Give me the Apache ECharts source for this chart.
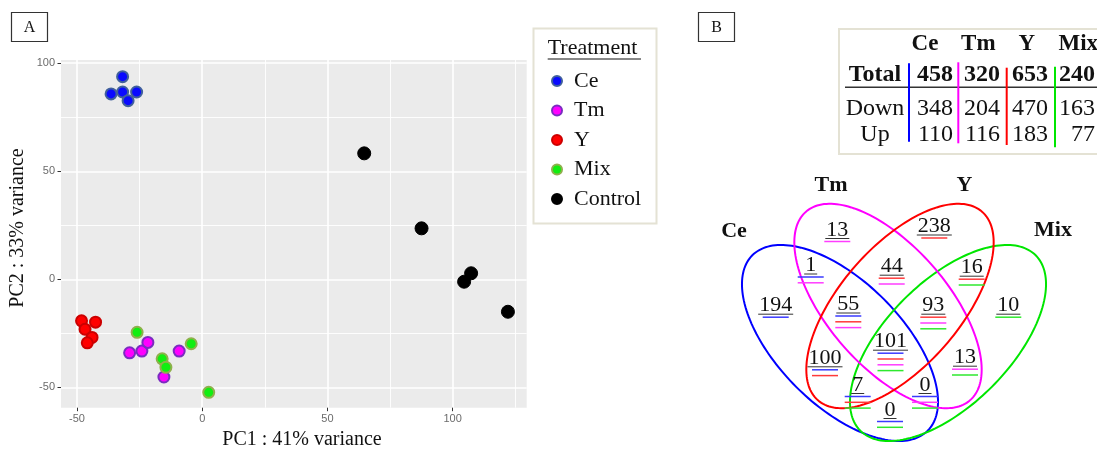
<!DOCTYPE html>
<html>
<head>
<meta charset="utf-8">
<script src="https://cdn.jsdelivr.net/npm/echarts@6/dist/echarts.min.js"></script>
<style>html,body{margin:0;padding:0;background:#fff}#c{width:1097px;height:449px}</style>
</head>
<body>
<div id="c"></div>
<script>
// ================= DATA =================
// Panel A : PCA scores
const groups = ['Ce', 'Tm', 'Y', 'Mix', 'Control'];
const ceX = [-31.8, -36.4, -31.8, -26.2, -29.6];
const ceY = [93.8, 85.8, 86.7, 86.7, 82.7];
const tmX = [-29.0, -24.1, -21.7, -9.2, -15.3];
const tmY = [-34.0, -33.2, -29.2, -33.2, -45.2];
const yX = [-48.2, -42.6, -46.8, -44.0, -45.9];
const yY = [-19.2, -19.8, -23.1, -26.9, -29.4];
const mixX = [-26.0, -4.4, -16.0, -14.5, 2.6];
const mixY = [-24.5, -29.8, -36.8, -40.7, -52.3];
const ctrlX = [64.7, 87.6, 107.4, 104.6, 122.1];
const ctrlY = [58.3, 23.6, 2.8, -1.1, -15.0];
const xTicks = [-50, 0, 50, 100];
const yTicks = [-50, 0, 50, 100];
const xMinorTicks = [-25, 25, 75, 125];
const yMinorTicks = [-25, 25, 75];
const xTitle = 'PC1 : 41% variance';
const yTitle = 'PC2 : 33% variance';
const legendTitle = 'Treatment';

// Panel B : DEG table and Venn diagram
const tableCols = ['Ce', 'Tm', 'Y', 'Mix'];
const tableRowNames = ['Total', 'Down', 'Up'];
const totalDEG = [458, 320, 653, 240];
const downDEG = [348, 204, 470, 163];
const upDEG = [110, 116, 183, 77];
const vennSets = ['Ce', 'Tm', 'Y', 'Mix'];
const vennRegions = ['Ce', 'Tm', 'Y', 'Mix', 'Ce&Tm', 'Tm&Y', 'Y&Mix', 'Ce&Tm&Y', 'Tm&Y&Mix',
  'Ce&Tm&Y&Mix', 'Ce&Y', 'Tm&Mix', 'Ce&Y&Mix', 'Ce&Tm&Mix', 'Ce&Mix'];
const vennCounts = [194, 13, 238, 10, 1, 44, 16, 55, 93, 101, 100, 13, 7, 0, 0];
const panelLabels = ['A', 'B'];

// ================= LAYOUT / STYLE =================
const SERIF = '"Liberation Serif", "Times New Roman", serif';
const SANS = '"Liberation Sans", Arial, sans-serif';
const pcaX = { Ce: ceX, Tm: tmX, Y: yX, Mix: mixX, Control: ctrlX };
const pcaY = { Ce: ceY, Tm: tmY, Y: yY, Mix: mixY, Control: ctrlY };
const pointStyle = {
  Ce: { fill: '#0a0aff', border: '#40609c' },
  Tm: { fill: '#ff00ff', border: '#7a2cc0' },
  Y: { fill: '#ff0000', border: '#cc0000' },
  Mix: { fill: '#11ee11', border: '#8fb04c' },
  Control: { fill: '#000000', border: '#000000' }
};
const setColor = { Ce: '#0000ff', Tm: '#ff00ff', Y: '#ff0000', Mix: '#00e600' };
const lineColor = { Ce: '#3a3aff', Tm: '#ff3cff', Y: '#ff3a3a', Mix: '#2ee82e' };
const underlineOrder = ['Ce', 'Y', 'Tm', 'Mix'];
const ellipseGeom = [
  { set: 'Ce', cx: 840, cy: 343, a: 124, b: 62, rot: 45 },
  { set: 'Mix', cx: 948, cy: 343, a: 124, b: 62, rot: 135 },
  { set: 'Tm', cx: 888, cy: 306, a: 125, b: 60, rot: 49 },
  { set: 'Y', cx: 900, cy: 306, a: 125, b: 60, rot: 131 }
];
const vennLabelPos = [
  [775.7, 305.7], [837.3, 230], [934.3, 226.5], [1008.3, 305.7],
  [810.7, 265.5], [891.7, 266.7], [971.7, 267.7],
  [848.3, 304.5], [933.3, 305.7], [890.5, 341.7],
  [825, 358.3], [965, 357.7], [857.7, 385], [925, 385], [890, 410]
];
const setLabelPos = { Ce: [734, 231], Tm: [831, 185], Y: [964.5, 185], Mix: [1053, 230] };

// ================= CHART =================
const chart = echarts.init(document.getElementById('c'), null, { renderer: 'canvas', width: 1097, height: 449 });

const scatterSeries = groups.map(g => ({
  type: 'scatter',
  name: g,
  xAxisIndex: 0,
  yAxisIndex: 0,
  data: pcaX[g].map((x, i) => [x, pcaY[g][i]]),
  symbol: 'circle',
  symbolSize: g === 'Control' ? 13 : 11,
  itemStyle: { color: pointStyle[g].fill, borderColor: pointStyle[g].border, borderWidth: g === 'Control' ? 1 : 2, opacity: 1 },
  emphasis: { disabled: true },
  z: 3
}));

const ellipseSeries = {
  type: 'custom',
  coordinateSystem: 'cartesian2d',
  xAxisIndex: 2,
  yAxisIndex: 2,
  silent: true,
  data: ellipseGeom.map((e, i) => [e.cx, e.cy, e.a, e.b, e.rot, i]),
  renderItem: function (params, api) {
    const cx = api.value(0), cy = api.value(1), a = api.value(2), b = api.value(3);
    const r = api.value(4) * Math.PI / 180;
    const set = ellipseGeom[api.value(5)].set;
    const pts = [];
    const N = 180;
    for (let k = 0; k < N; k++) {
      const t = 2 * Math.PI * k / N;
      const lx = a * Math.cos(t), ly = b * Math.sin(t);
      pts.push(api.coord([cx + lx * Math.cos(r) - ly * Math.sin(r), cy + lx * Math.sin(r) + ly * Math.cos(r)]));
    }
    return { type: 'polygon', shape: { points: pts }, style: { fill: 'none', stroke: setColor[set], lineWidth: 2 } };
  },
  z: 2
};

const vennSeries = {
  type: 'custom',
  coordinateSystem: 'cartesian2d',
  xAxisIndex: 2,
  yAxisIndex: 2,
  silent: true,
  data: vennRegions.map((r, i) => [vennLabelPos[i][0], vennLabelPos[i][1], vennCounts[i], i]),
  renderItem: function (params, api) {
    const i = api.value(3);
    const p = api.coord([api.value(0), api.value(1)]);
    const txt = String(api.value(2));
    const members = underlineOrder.filter(s => vennRegions[i].split('&').indexOf(s) >= 0);
    const children = [{
      type: 'text', x: p[0], y: p[1],
      style: { text: txt, fontFamily: SERIF, fontSize: 22, fill: '#111', align: 'center', verticalAlign: 'middle' }
    }];
    const w = txt.length * 11 + 2;
    children.push({ type: 'line', shape: { x1: p[0] - w / 2, y1: p[1] + 8.5, x2: p[0] + w / 2, y2: p[1] + 8.5 }, style: { stroke: '#333', lineWidth: 1 } });
    members.forEach((s, k) => {
      const yy = p[1] + 11.5 + k * 5.8;
      children.push({ type: 'line', shape: { x1: p[0] - 13, y1: yy, x2: p[0] + 13, y2: yy }, style: { stroke: lineColor[s], lineWidth: 1.5 } });
    });
    return { type: 'group', children: children };
  },
  z: 3
};

// ---- graphic (labels, boxes, table) ----
const graphics = [];
const panelBoxes = [[11.5, 12.5], [698.5, 12.5]];
panelLabels.forEach((L, i) => {
  graphics.push({ type: 'rect', shape: { x: panelBoxes[i][0], y: panelBoxes[i][1], width: 36, height: 29 }, style: { fill: '#fff', stroke: '#333', lineWidth: 1.2 } });
  graphics.push({ type: 'text', x: panelBoxes[i][0] + 18, y: panelBoxes[i][1] + 15, style: { text: L, fontFamily: SERIF, fontSize: 16, fill: '#111', align: 'center', verticalAlign: 'middle' } });
});
graphics.push({ type: 'text', x: 302, y: 439.5, style: { text: xTitle, fontFamily: SERIF, fontSize: 20, fill: '#111', align: 'center', verticalAlign: 'middle' } });
graphics.push({ type: 'text', x: 18, y: 228, rotation: Math.PI / 2, style: { text: yTitle, fontFamily: SERIF, fontSize: 20, fill: '#111', align: 'center', verticalAlign: 'middle' } });
// legend box + title
graphics.push({ type: 'rect', z: -1, shape: { x: 533.5, y: 28.5, width: 123, height: 195 }, style: { fill: '#fff', stroke: '#e4e2d4', lineWidth: 2 } });
graphics.push({ type: 'text', x: 547.7, y: 48.3, style: { text: legendTitle, fontFamily: SERIF, fontSize: 22, fill: '#111', align: 'left', verticalAlign: 'middle' } });
graphics.push({ type: 'line', shape: { x1: 547.7, y1: 59, x2: 641, y2: 59 }, style: { stroke: '#111', lineWidth: 1 } });
// table
graphics.push({ type: 'rect', shape: { x: 839, y: 29, width: 270, height: 125 }, style: { fill: '#fff', stroke: '#e4e2d4', lineWidth: 2 } });
const headerX = [925, 978.3, 1026.7, 1078.3];
const colRight = [953, 1000, 1048, 1095];
const rowY = [74.3, 108.3, 135];
const rowVals = [totalDEG, downDEG, upDEG];
tableCols.forEach((c, j) => {
  graphics.push({ type: 'text', x: headerX[j], y: 44, style: { text: c, fontFamily: SERIF, fontWeight: 'bold', fontSize: 23, fill: '#111', align: 'center', verticalAlign: 'middle' } });
});
tableRowNames.forEach((rn, r) => {
  const bold = r === 0 ? 'bold' : 'normal';
  graphics.push({ type: 'text', x: 875, y: rowY[r], style: { text: rn, fontFamily: SERIF, fontWeight: bold, fontSize: 24, fill: '#111', align: 'center', verticalAlign: 'middle' } });
  rowVals[r].forEach((v, j) => {
    graphics.push({ type: 'text', x: colRight[j], y: rowY[r], style: { text: String(v), fontFamily: SERIF, fontWeight: bold, fontSize: 24, fill: '#111', align: 'right', verticalAlign: 'middle' } });
  });
});
graphics.push({ type: 'line', shape: { x1: 845, y1: 87.3, x2: 1097, y2: 87.3 }, style: { stroke: '#333', lineWidth: 1.5 } });
const vlineX = [909, 958.3, 1006.7, 1055];
const vlineY = [[63.3, 141.7], [62.3, 143.3], [67.7, 145], [66.7, 147.3]];
tableCols.forEach((c, j) => {
  graphics.push({ type: 'line', shape: { x1: vlineX[j], y1: vlineY[j][0], x2: vlineX[j], y2: vlineY[j][1] }, style: { stroke: setColor[c], lineWidth: 2 } });
});
// Venn set names
vennSets.forEach(s => {
  graphics.push({ type: 'text', x: setLabelPos[s][0], y: setLabelPos[s][1], style: { text: s, fontFamily: SERIF, fontWeight: 'bold', fontSize: 22, fill: '#111', align: 'center', verticalAlign: 'middle' } });
});

const xr = [-56.4, 129.6], yr = [-59.4, 101.5];
const option = {
  animation: false,
  backgroundColor: '#ffffff',
  grid: [
    { left: 61, top: 60, width: 465.7, height: 347.7, show: true, backgroundColor: '#ebebeb', borderWidth: 0 },
    { left: 690, top: 0, width: 407, height: 449, show: false }
  ],
  xAxis: [
    { gridIndex: 0, type: 'value', min: xr[0], max: xr[1], position: 'bottom',
      axisLine: { show: false, onZero: false },
      axisTick: { show: true, length: 3.5, lineStyle: { color: '#333', width: 1 }, customValues: xTicks },
      axisLabel: { customValues: xTicks, margin: 6, color: '#6b6b6b', fontSize: 11, fontFamily: SANS },
      splitLine: { show: true, lineStyle: { color: '#ffffff', width: 1.6 } } },
    { gridIndex: 0, type: 'value', min: xr[0], max: xr[1], position: 'top',
      axisLine: { show: false, onZero: false }, axisTick: { show: false, customValues: xMinorTicks },
      axisLabel: { show: false, customValues: xMinorTicks },
      splitLine: { show: true, lineStyle: { color: '#ffffff', width: 0.9 } } },
    { gridIndex: 1, type: 'value', min: 690, max: 1097, show: false }
  ],
  yAxis: [
    { gridIndex: 0, type: 'value', min: yr[0], max: yr[1], position: 'left',
      axisLine: { show: false, onZero: false },
      axisTick: { show: true, length: 3.5, lineStyle: { color: '#333', width: 1 }, customValues: yTicks },
      axisLabel: { customValues: yTicks, margin: 6, color: '#6b6b6b', fontSize: 11, fontFamily: SANS },
      splitLine: { show: true, lineStyle: { color: '#ffffff', width: 1.6 } } },
    { gridIndex: 0, type: 'value', min: yr[0], max: yr[1], position: 'right',
      axisLine: { show: false, onZero: false }, axisTick: { show: false, customValues: yMinorTicks },
      axisLabel: { show: false, customValues: yMinorTicks },
      splitLine: { show: true, lineStyle: { color: '#ffffff', width: 0.9 } } },
    { gridIndex: 1, type: 'value', min: 0, max: 449, inverse: true, show: false }
  ],
  legend: {
    data: groups, orient: 'vertical', left: 551, top: 70, padding: 0,
    itemWidth: 10, itemHeight: 10, itemGap: 7.5, icon: 'circle', selectedMode: false,
    textStyle: { fontFamily: SERIF, fontSize: 22, color: '#111', lineHeight: 22, padding: [0, 0, 0, 7] }
  },
  graphic: graphics,
  series: scatterSeries.concat([ellipseSeries, vennSeries])
};
chart.setOption(option);
</script>
</body>
</html>
